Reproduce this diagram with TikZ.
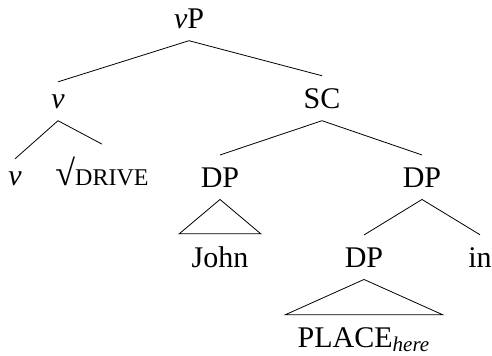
\documentclass[tikz,border=0pt]{standalone}
\usepackage{fontspec}
\setmainfont{Liberation Serif}

\newcommand{\fakesc}[1]{\scalebox{0.8}{#1}}
\newcommand{\rootsign}{\scalebox{1.2}{√}}

\begin{document}
\begin{tikzpicture}[x=0.5pt, y=-0.5pt,
    cat/.style={anchor=base, inner sep=6pt, font=\fontsize{15}{18}\selectfont}]
    \useasboundingbox (0,0) rectangle (492,355);
    % categories, level by level
    \node[cat] (vP) at (189,28) {\textit{v}P};
    \node[cat] (v) at (58,108) {\textit{v}};
    \node[cat] (SC) at (322,108) {SC};
    \node[cat] (vhead) at (15,185) {\textit{v}};
    \node[cat] (root) at (102,185) {\rootsign\fakesc{DRIVE}};
    \node[cat] (DPsubj) at (220,187) {DP};
    \node[cat] (DPpp) at (422,187) {DP};
    \node[cat] (John) at (220,267) {John};
    \node[cat] (DPobj) at (364,267) {DP};
    \node[cat] (in) at (480,267) {in};
    \node[cat] (place) at (364,347) {PLACE\textsubscript{\textit{here}}};
    % branches
    \draw (vP.south) -- (v.north);
    \draw (vP.south) -- (SC.north);
    \draw (v.south) -- (vhead.north);
    \draw (v.south) -- (root.north);
    \draw (SC.south) -- (DPsubj.north);
    \draw (SC.south) -- (DPpp.north);
    \draw (DPpp.south) -- (DPobj.north);
    \draw (DPpp.south) -- (in.north);
    % roofs
    \draw (DPsubj.south) -- (John.north west) -- (John.north east) -- cycle;
    \draw (DPobj.south) -- (place.north west) -- (place.north east) -- cycle;
\end{tikzpicture}
\end{document}
